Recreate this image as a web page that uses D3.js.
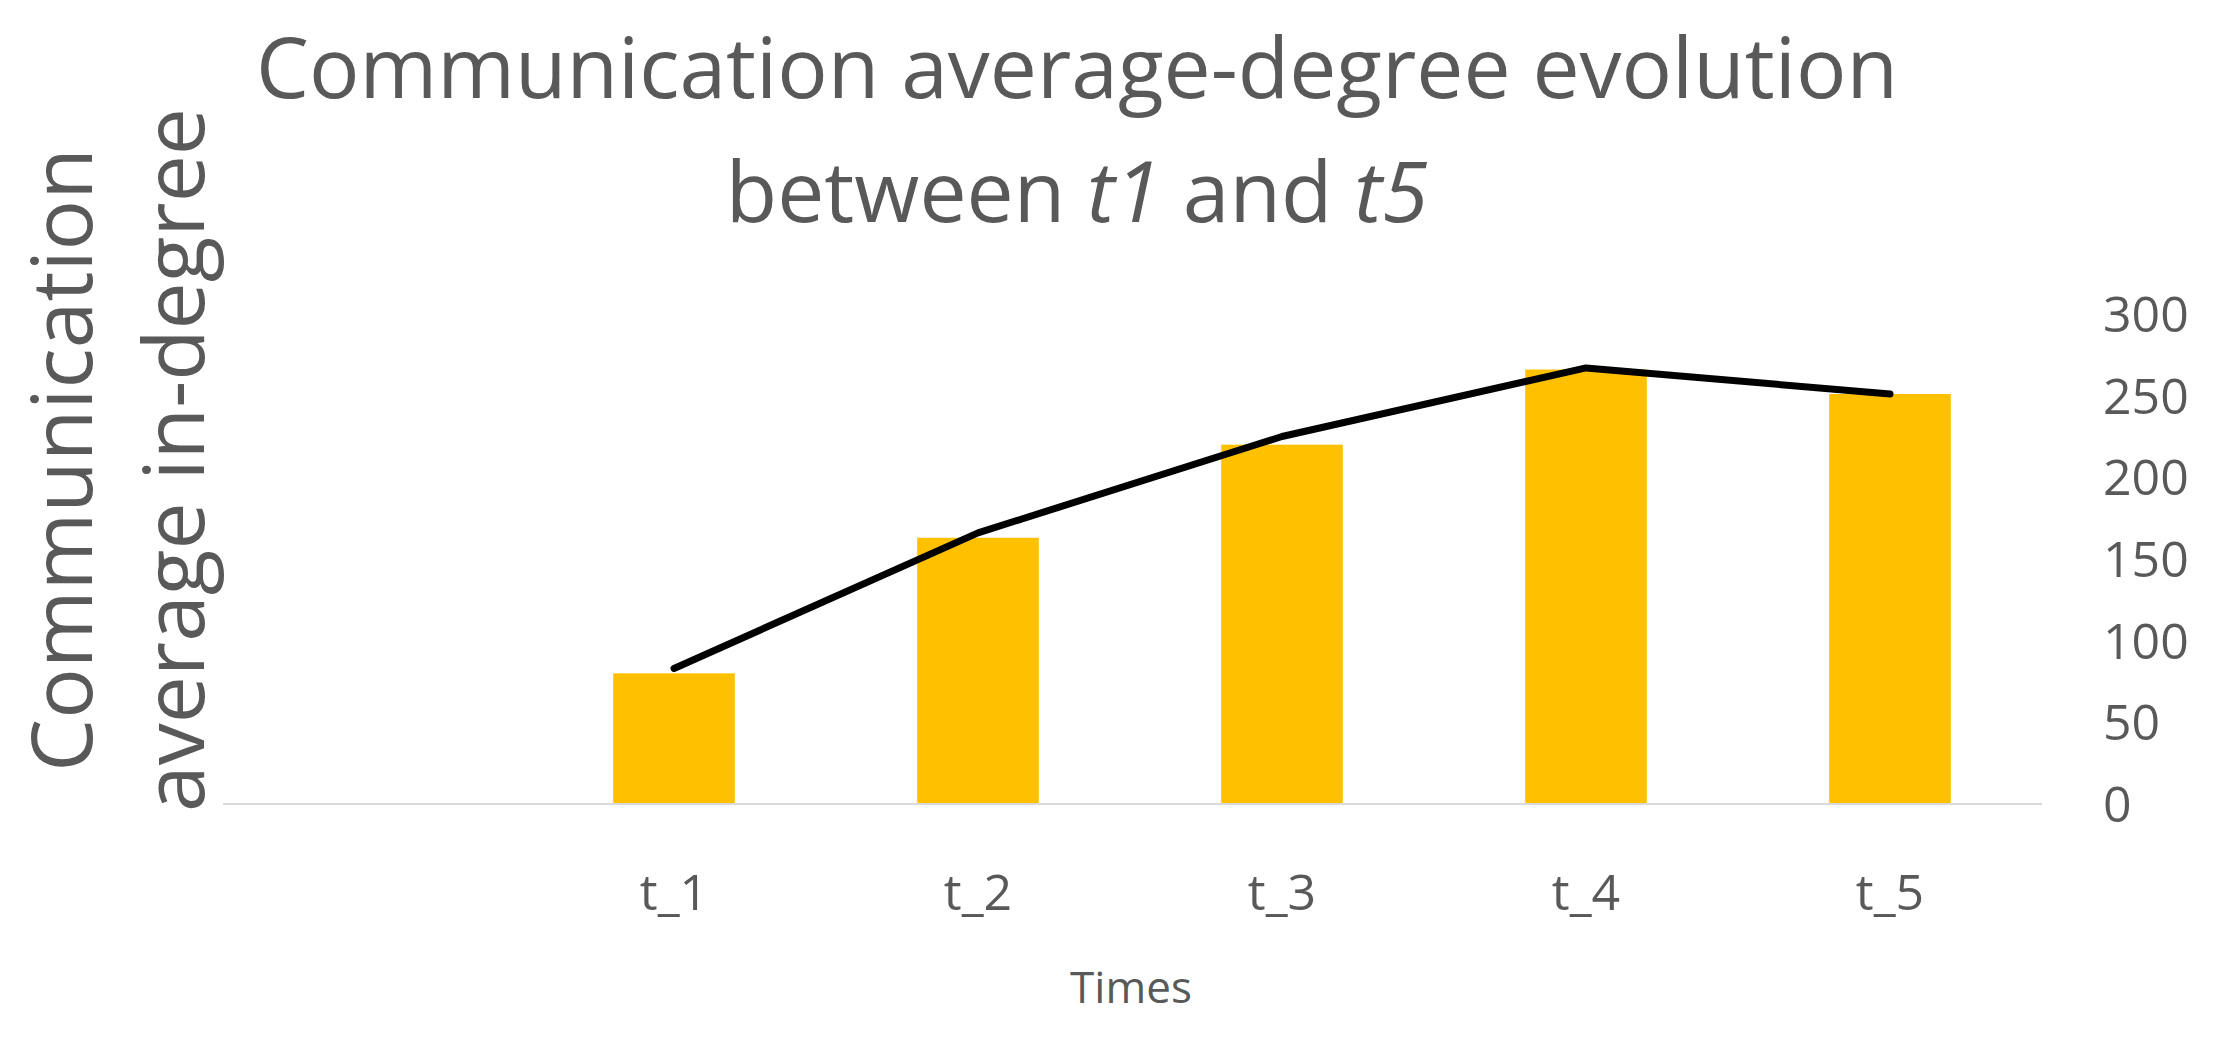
<!DOCTYPE html>
<html>
<head>
<meta charset="utf-8">
<script src="https://d3js.org/d3.v7.min.js"></script>
<style>
  body { margin: 0; background: #fff; }
  text { font-family: "Open Sans", sans-serif; fill: #595959; }
</style>
</head>
<body>
<script>
// chart values
var categories = ['t_1', 't_2', 't_3', 't_4', 't_5'];
var barValues = [80, 163, 220, 266, 251];
var lineValues = [83, 166, 225, 267, 251];
var yTicks = [0, 50, 100, 150, 200, 250, 300];

var width = 2216, height = 1044;

var svg = d3.select('body').append('svg')
  .attr('width', width)
  .attr('height', height);

var x = d3.scaleBand()
  .domain(categories)
  .range([522, 2042])
  .paddingInner(0.6)
  .paddingOuter(0.3);

var y = d3.scaleLinear()
  .domain([0, 300])
  .range([804, 314]);

// bars
svg.selectAll('rect.bar')
  .data(barValues)
  .enter()
  .append('rect')
  .attr('class', 'bar')
  .attr('x', function (d, i) { return x(categories[i]); })
  .attr('y', function (d) { return y(d); })
  .attr('width', x.bandwidth())
  .attr('height', function (d) { return y(0) - y(d); })
  .style('fill', '#FFC000');

// baseline
svg.append('line')
  .attr('x1', 223).attr('x2', 2042)
  .attr('y1', y(0)).attr('y2', y(0))
  .style('stroke', '#d9d9d9')
  .style('stroke-width', 2);

// line series
var line = d3.line()
  .x(function (d, i) { return x(categories[i]) + x.bandwidth() / 2; })
  .y(function (d) { return y(d); });

svg.append('path')
  .datum(lineValues)
  .attr('d', line)
  .style('fill', 'none')
  .style('stroke', '#000')
  .style('stroke-width', 7)
  .style('stroke-linecap', 'round')
  .style('stroke-linejoin', 'round');

// right axis labels
svg.selectAll('text.ytick')
  .data(yTicks)
  .enter()
  .append('text')
  .attr('class', 'ytick')
  .attr('x', 2103)
  .attr('y', function (d) { return y(d); })
  .attr('dy', '0.36em')
  .style('font-size', '50px')
  .text(function (d) { return d; });

// category labels
svg.selectAll('text.xtick')
  .data(categories)
  .enter()
  .append('text')
  .attr('class', 'xtick')
  .attr('x', function (d) { return x(d) + x.bandwidth() / 2; })
  .attr('y', 910)
  .attr('text-anchor', 'middle')
  .style('font-size', '50px')
  .text(function (d) { return d; });

svg.append('text')
  .attr('x', 1131).attr('y', 1003)
  .attr('text-anchor', 'middle')
  .style('font-size', '44px')
  .text('Times');

// title
svg.append('text')
  .attr('x', 1077).attr('y', 98)
  .attr('text-anchor', 'middle')
  .style('font-size', '84px')
  .text('Communication average-degree evolution');

var t2 = svg.append('text')
  .attr('x', 1077).attr('y', 222)
  .attr('text-anchor', 'middle')
  .style('font-size', '84px');
t2.append('tspan').text('between ');
t2.append('tspan').style('font-style', 'italic').text('t1');
t2.append('tspan').text(' and ');
t2.append('tspan').style('font-style', 'italic').text('t5');

// y title
var yt = svg.append('text')
  .attr('transform', 'translate(92,460) rotate(-90)')
  .attr('text-anchor', 'middle')
  .style('font-size', '84px');
yt.append('tspan').attr('x', 0).attr('y', 0).text('Communication');
yt.append('tspan').attr('x', 0).attr('y', 112).text('average in-degree');
</script>
</body>
</html>
